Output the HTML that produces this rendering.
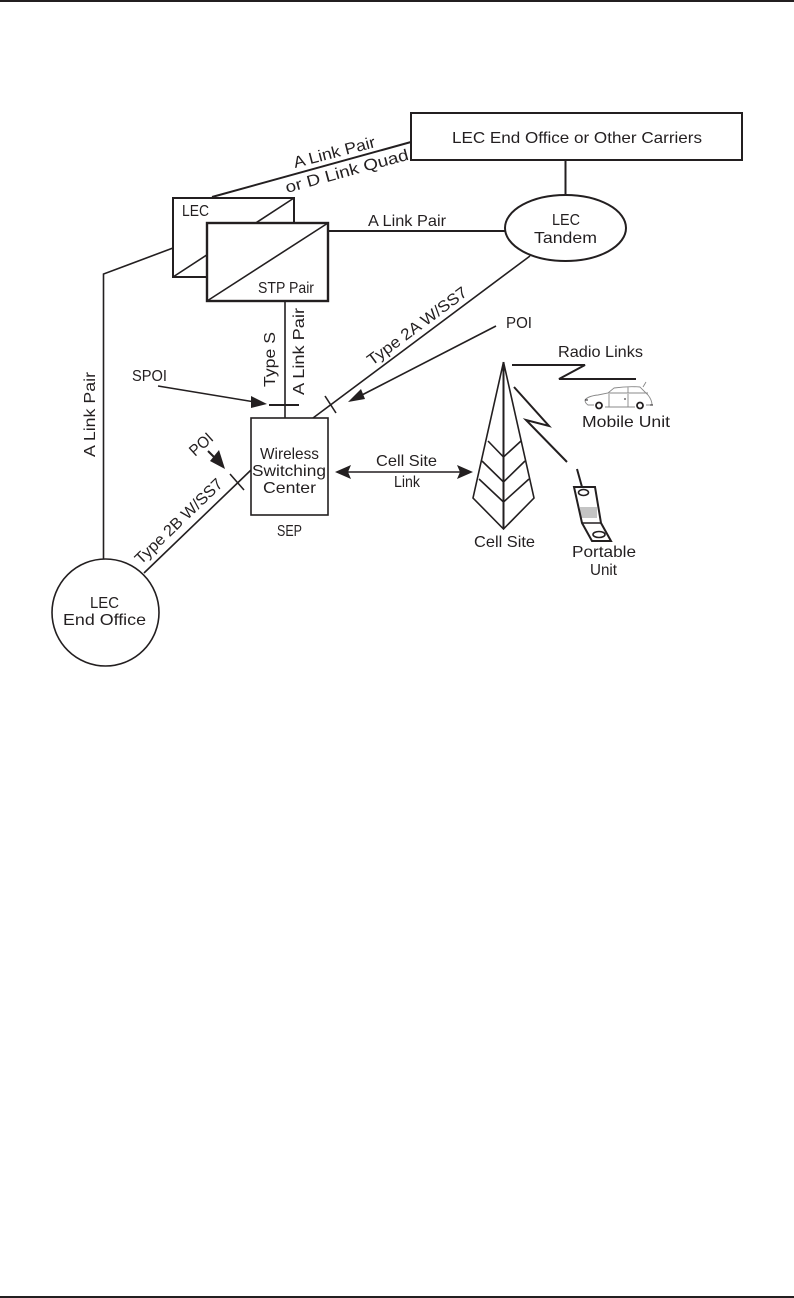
<!DOCTYPE html>
<html><head><meta charset="utf-8"><style>
html,body{margin:0;padding:0;background:#fff}
svg{display:block}
text{font-family:"Liberation Sans",sans-serif;font-size:16px;fill:#231f20}
.l{fill:none;stroke:#231f20;stroke-width:2}
.t{fill:none;stroke:#231f20;stroke-width:1.6}
.c{fill:none;stroke:#888;stroke-width:.9}
</style></head><body>
<svg width="794" height="1298" viewBox="0 0 794 1298" xmlns="http://www.w3.org/2000/svg">
<rect x="0" y="0" width="794" height="2" fill="#231f20"/>
<rect x="0" y="1296" width="794" height="2" fill="#231f20"/>
<rect class="l" x="411" y="113" width="331" height="47"/>
<line class="l" x1="212" y1="197" x2="411" y2="142"/>
<line class="l" x1="565.500" y1="160" x2="565.500" y2="195"/>
<ellipse class="l" cx="565.500" cy="228" rx="60.500" ry="33"/>
<rect class="l" x="173" y="198" width="121" height="79"/>
<line class="t" x1="173" y1="277" x2="294" y2="198"/>
<rect x="207" y="223" width="121" height="78" fill="#fff" stroke="#231f20" stroke-width="2.400"/>
<line class="t" x1="207" y1="301" x2="328" y2="223"/>
<line class="l" x1="328" y1="231" x2="505" y2="231"/>
<polyline class="t" points="173,248 103.500,274 103.500,559"/>
<circle class="t" cx="105.500" cy="612.500" r="53.500"/>
<line class="t" x1="285" y1="301" x2="285" y2="418"/>
<line class="l" x1="269" y1="405" x2="299" y2="405"/>
<line class="t" x1="530" y1="256" x2="313" y2="418"/>
<line class="t" x1="325" y1="396" x2="336" y2="413"/>
<line class="t" x1="144" y1="573" x2="251" y2="470"/>
<line class="t" x1="230" y1="474" x2="244" y2="490"/>
<rect class="t" x="251" y="418" width="77" height="97"/>
<line class="t" x1="158" y1="386" x2="255" y2="402"/>
<polygon points="267,404 251,396 251,408" fill="#231f20"/>
<line class="t" x1="496" y1="326" x2="360" y2="396"/>
<polygon points="348,402 361,389 365,399" fill="#231f20"/>
<line class="l" x1="208" y1="451" x2="218" y2="461"/>
<polygon points="225,469 210,461 219,450" fill="#231f20"/>
<line class="t" x1="345" y1="472" x2="463" y2="472"/>
<polygon points="335,472 351,465 348,472 351,479" fill="#231f20"/>
<polygon points="473,472 457,465 460,472 457,479" fill="#231f20"/>
<polyline class="t" points="503.500,362 473,498 503.500,529 534,498 503.500,362"/>
<line class="l" x1="503.500" y1="362" x2="503.500" y2="529"/>
<polyline class="t" points="488,441 503.500,457 521,441"/>
<polyline class="t" points="482,461 503.500,482 525,461"/>
<polyline class="t" points="479,479 503.500,502 529,479"/>
<polyline class="l" points="512,365 585,365 559,379 636,379"/>
<polyline class="l" points="514,387 549,426 526,420 567,462"/>
<line class="l" x1="577" y1="469" x2="582" y2="487"/>
<rect x="580" y="507" width="17" height="11" fill="#c4c4c4"/>
<polygon class="l" points="574,487 595,487 601,523 611,541 592,541 582,523"/>
<line class="t" x1="582" y1="523" x2="601" y2="523"/>
<ellipse class="t" cx="583.500" cy="492.500" rx="5" ry="3"/>
<ellipse class="t" cx="599" cy="534.500" rx="6" ry="3"/>
<path class="c" d="M594,405 H588 Q585,403 585,400 Q588,396 598,395 L608,393 L614,388 Q628,386 640,387 L648,395 Q652,400 652,405 H646 M635,407 H605 M608,393 H648 M628,387 V393 M609,394 V407 M628,394 V407 M643,387 L646,382"/>
<line x1="650" y1="405" x2="653" y2="405" stroke="#231f20" stroke-width="1"/>
<line x1="585" y1="400" x2="588" y2="400" stroke="#231f20" stroke-width="1"/>
<line x1="624" y1="399" x2="626" y2="399" stroke="#231f20" stroke-width="1"/>
<circle cx="599" cy="405.500" r="3" fill="#fff" stroke="#231f20" stroke-width="1.800"/>
<circle cx="640" cy="405.500" r="3" fill="#fff" stroke="#231f20" stroke-width="1.800"/>
<text x="452" y="143" textLength="250" lengthAdjust="spacingAndGlyphs">LEC End Office or Other Carriers</text>
<text x="368" y="226" textLength="78" lengthAdjust="spacingAndGlyphs">A Link Pair</text>
<text x="552" y="225" textLength="28" lengthAdjust="spacingAndGlyphs">LEC</text>
<text x="534" y="243" textLength="63" lengthAdjust="spacingAndGlyphs">Tandem</text>
<text x="506" y="328" textLength="26" lengthAdjust="spacingAndGlyphs">POI</text>
<text x="558" y="357" textLength="85" lengthAdjust="spacingAndGlyphs">Radio Links</text>
<text x="582" y="427" textLength="88" lengthAdjust="spacingAndGlyphs">Mobile Unit</text>
<text x="474" y="547" textLength="61" lengthAdjust="spacingAndGlyphs">Cell Site</text>
<text x="572" y="557" textLength="64" lengthAdjust="spacingAndGlyphs">Portable</text>
<text x="590" y="575" textLength="27" lengthAdjust="spacingAndGlyphs">Unit</text>
<text x="182" y="216" textLength="27" lengthAdjust="spacingAndGlyphs">LEC</text>
<text x="258" y="293" textLength="56" lengthAdjust="spacingAndGlyphs">STP Pair</text>
<text x="132" y="381" textLength="35" lengthAdjust="spacingAndGlyphs">SPOI</text>
<text x="260" y="459" textLength="59" lengthAdjust="spacingAndGlyphs">Wireless</text>
<text x="252" y="476" textLength="74" lengthAdjust="spacingAndGlyphs">Switching</text>
<text x="263" y="493" textLength="53" lengthAdjust="spacingAndGlyphs">Center</text>
<text x="277" y="536" textLength="25" lengthAdjust="spacingAndGlyphs">SEP</text>
<text x="90" y="608" textLength="29" lengthAdjust="spacingAndGlyphs">LEC</text>
<text x="63" y="625" textLength="83" lengthAdjust="spacingAndGlyphs">End Office</text>
<text x="376" y="466" textLength="61" lengthAdjust="spacingAndGlyphs">Cell Site</text>
<text x="394" y="487" textLength="26" lengthAdjust="spacingAndGlyphs">Link</text>
<text transform="translate(95,457) rotate(-90)" textLength="85" lengthAdjust="spacingAndGlyphs">A Link Pair</text>
<text transform="translate(275,387) rotate(-90)" textLength="55" lengthAdjust="spacingAndGlyphs">Type S</text>
<text transform="translate(304,395) rotate(-90)" textLength="87" lengthAdjust="spacingAndGlyphs">A Link Pair</text>
<text transform="translate(372,366) rotate(-36.500)" textLength="120" lengthAdjust="spacingAndGlyphs">Type 2A W/SS7</text>
<text transform="translate(141,565) rotate(-44)" textLength="115" lengthAdjust="spacingAndGlyphs">Type 2B W/SS7</text>
<text transform="translate(195,457) rotate(-42)" textLength="26" lengthAdjust="spacingAndGlyphs">POI</text>
<text transform="translate(295,168) rotate(-14.500)" textLength="84" lengthAdjust="spacingAndGlyphs">A Link Pair</text>
<text transform="translate(287,193) rotate(-15.300)" textLength="127" lengthAdjust="spacingAndGlyphs">or D Link Quad</text>
</svg>
</body></html>
